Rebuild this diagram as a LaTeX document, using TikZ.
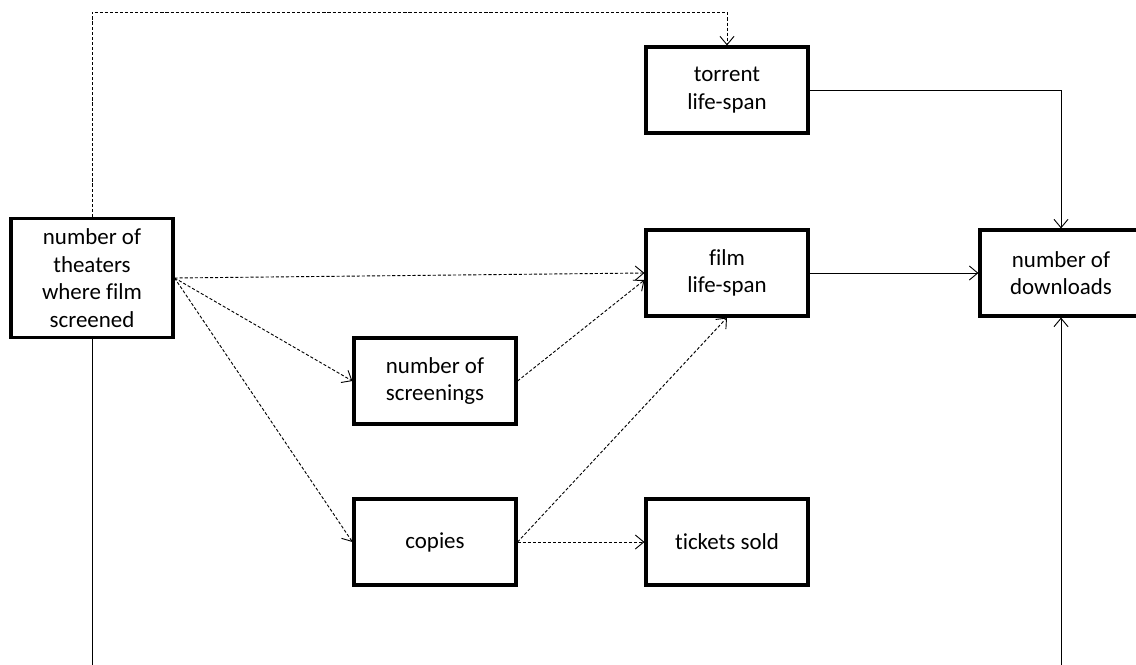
\documentclass[tikz,border=0pt]{standalone}
\usepackage{fontspec}
\setmainfont{Carlito}[Ligatures=NoCommon]
\usepackage{tikz}
\usetikzlibrary{arrows.meta,calc}

\tikzset{
    factor/.style={draw,line width=2.2pt,minimum width=4.05cm,minimum height=2.15cm,
        align=center,inner sep=2pt,font=\fontsize{16.3pt}{19.5pt}\selectfont},
    link/.style={line width=0.65pt,-{Straight Barb[length=6pt,width=10pt]}},
    weak/.style={link,dash pattern=on 2.2pt off 1.4pt}
}

\begin{document}
\begin{tikzpicture}[line cap=butt,line join=miter,x=0.025cm,y=-0.025cm]
                \useasboundingbox (0,0) rectangle (1136,664);
                \clip (0,0) rectangle (1136,664);
                \coordinate (topline) at (0,12);
                \coordinate (bottomline) at (0,680);
                % boxes
                \node [factor,minimum height=2.975cm] (theaters) at (92,278) {number of\\theaters\\where film\\screened};
                \node [factor] (torrent) at (727,90) {torrent\\life-span};
                \node [factor] (film) at (727,273) {film\\life-span};
                \node [factor] (downloads) at (1061,273) {number of\\downloads};
                \node [factor] (screenings) at (435,381) {number of\\screenings};
                \node [factor] (copies) at (435,542) {copies};
                \node [factor] (tickets) at (727,542) {tickets sold};
                % dashed links
                \draw [weak] (theaters.north) -- (theaters.north |- topline) -| (torrent.north);
                \draw [weak] (theaters.east) -- (film.west);
                \draw [weak] (theaters.east) -- (screenings.west);
                \draw [weak] (theaters.east) -- (copies.west);
                \draw [weak] (screenings.east) -- ($(film.west)+(0,7)$);
                \draw [weak] (copies.east) -- (film.south);
                \draw [weak] (copies.east) -- (tickets.west);
                % solid links
                \draw [link] (torrent.east) -| (downloads.north);
                \draw [link] (film.east) -- (downloads.west);
                \draw [line width=0.65pt] (theaters.south) -- (theaters.south |- bottomline);
                \draw [link] (downloads.south |- bottomline) -- (downloads.south);
            \end{tikzpicture}
\end{document}
